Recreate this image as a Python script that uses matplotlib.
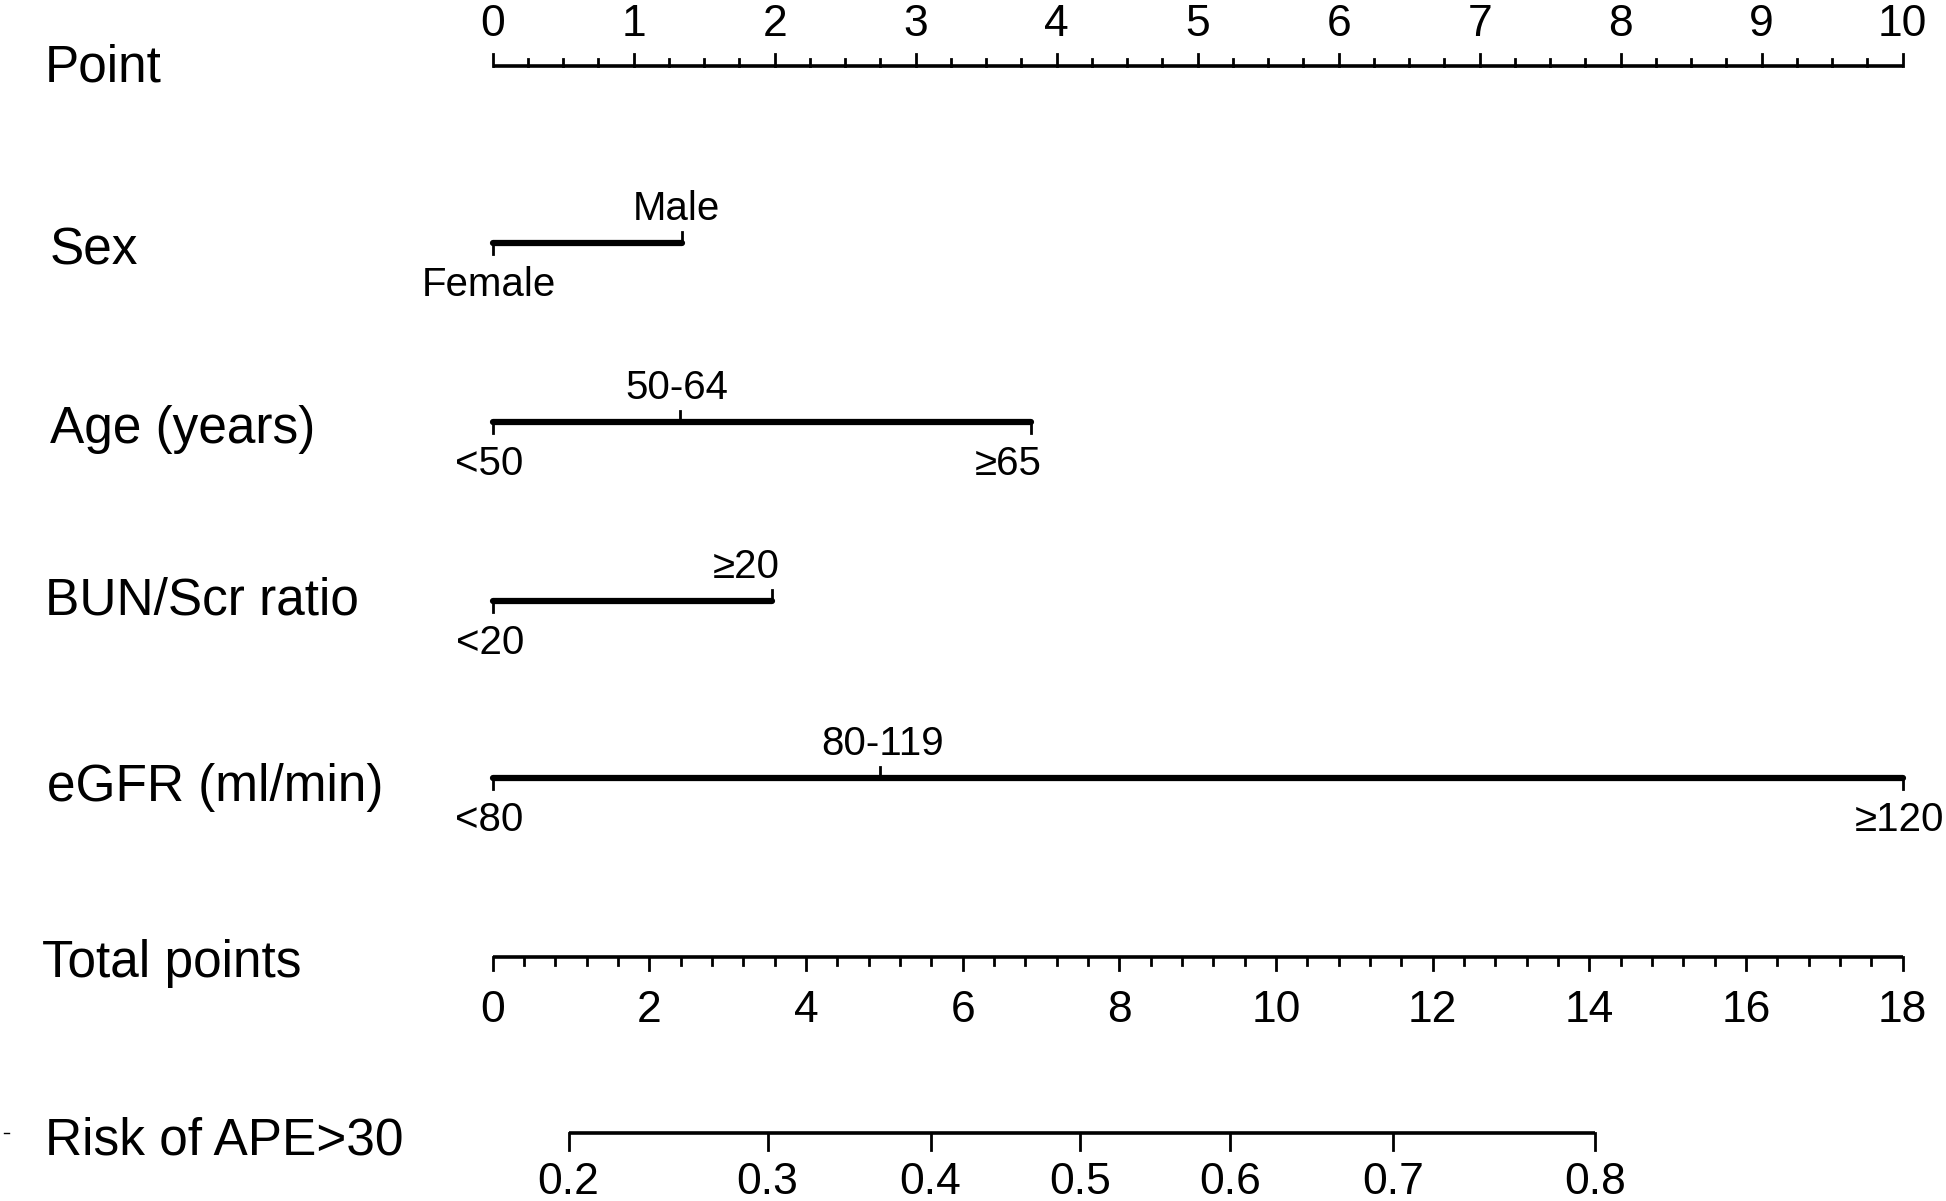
import matplotlib
matplotlib.use("Agg")
import matplotlib.pyplot as plt
from matplotlib import font_manager

# ---------------- data ----------------
point_ticks = list(range(0, 11))
row_labels = ["Point", "Sex", "Age (years)", "BUN/Scr ratio", "eGFR (ml/min)",
              "Total points", "Risk of APE>30"]

sex_levels = ["Female", "Male"]
sex_points = [0.0, 1.34]
age_levels = ["<50", "50-64", "\u226565"]
age_points = [0.0, 1.33, 3.82]
bun_levels = ["<20", "\u226520"]
bun_points = [0.0, 1.98]
egfr_levels = ["<80", "80-119", "\u2265120"]
egfr_points = [0.0, 2.75, 10.0]

total_max = 18
total_ticks = list(range(0, 19, 2))
risk_labels = ["0.2", "0.3", "0.4", "0.5", "0.6", "0.7", "0.8"]
risk_total_points = [0.97, 3.51, 5.59, 7.50, 9.41, 11.50, 14.07]

# ---------------- layout ----------------
W, H = 1946, 1201
x0_px, x10_px = 492.7, 1902.6
ppp = (x10_px - x0_px) / 10.0

fams = [f.name for f in font_manager.fontManager.ttflist]
base_font = ["Liberation Sans", "DejaVu Sans"]
narrow_font = (["Liberation Sans Narrow"] if "Liberation Sans Narrow" in fams else []) + base_font

fig = plt.figure(figsize=(W / 100, H / 100), dpi=100)
ax = fig.add_axes([0, 0, 1, 1])
ax.set_xlim(-x0_px / ppp, (W - x0_px) / ppp)
ax.set_ylim(H, 0)
ax.axis("off")

row_y = [66, 243, 422, 601, 778, 957, 1133]
label_x = [45, 50, 50, 45, 47, 42, 45]
label_y = [68, 251, 430, 601, 787, 963, 1141]
ROW_FS = 37
TICK_FS = 32
CAT_FS = 29
AX_LW = 2.6
CAT_LW = 4.5
TICK_LW = 2.0

def px2x(px):
    return (px - x0_px) / ppp

for lab, lx, ly in zip(row_labels, label_x, label_y):
    ax.text(px2x(lx), ly, lab, fontsize=ROW_FS, family=base_font,
            ha="left", va="center")

# Points axis
y = row_y[0]
ax.plot([point_ticks[0], point_ticks[-1]], [y, y], color="black", lw=AX_LW,
        solid_capstyle="butt")
minor_step = 0.25
n = int(round((point_ticks[-1] - point_ticks[0]) / minor_step))
for i in range(n + 1):
    v = point_ticks[0] + i * minor_step
    major = abs(v - round(v)) < 1e-9
    ax.plot([v, v], [y, y - (12.5 if major else 7.5)], color="black", lw=TICK_LW)
for t in point_ticks:
    ax.text(t, 25, str(t), fontsize=TICK_FS, family=base_font, ha="center", va="center")

# Categorical rows
def cat_row(y, levels, pts, shifts):
    ax.plot([min(pts), max(pts)], [y, y], color="black", lw=CAT_LW,
            solid_capstyle="round")
    for k, (lev, p, s) in enumerate(zip(levels, pts, shifts)):
        below = (k % 2 == 0)
        d = 1 if below else -1
        ax.plot([p, p], [y, y + d * 11], color="black", lw=TICK_LW)
        ty = y + d * 38 + 4
        ax.text(p + s / ppp, ty, lev, fontsize=CAT_FS, family=base_font,
                ha="center", va="center")

cat_row(row_y[1], sex_levels, sex_points, [-4, -5])
cat_row(row_y[2], age_levels, age_points, [-4, -3, -23])
cat_row(row_y[3], bun_levels, bun_points, [-3, -26])
cat_row(row_y[4], egfr_levels, egfr_points, [-4, 2, -3])

# Total points axis
y = row_y[5]
scale = 10.0 / total_max
ax.plot([0, total_max * scale], [y, y], color="black", lw=AX_LW, solid_capstyle="butt")
minor_step = 0.4
n = int(round(total_max / minor_step))
for i in range(n + 1):
    v = i * minor_step
    major = abs(v / 2 - round(v / 2)) < 1e-9
    ax.plot([v * scale, v * scale], [y, y + (12.5 if major else 7.5)],
            color="black", lw=TICK_LW)
for t in total_ticks:
    ax.text(t * scale, 1010, str(t), fontsize=TICK_FS, family=base_font,
            ha="center", va="center")

# Risk axis
y = row_y[6]
rx = [v * scale for v in risk_total_points]
ax.plot([rx[0], rx[-1]], [y, y], color="black", lw=AX_LW, solid_capstyle="butt")
for v, lab in zip(rx, risk_labels):
    ax.plot([v, v], [y, y + 17], color="black", lw=TICK_LW)
    ax.text(v, 1183, lab, fontsize=TICK_FS, family=narrow_font,
            ha="center", va="center")

# small stray mark at far left
ax.plot([px2x(4), px2x(9)], [1133, 1133], color="black", lw=1.0)

fig.savefig("out.png", dpi=100)
